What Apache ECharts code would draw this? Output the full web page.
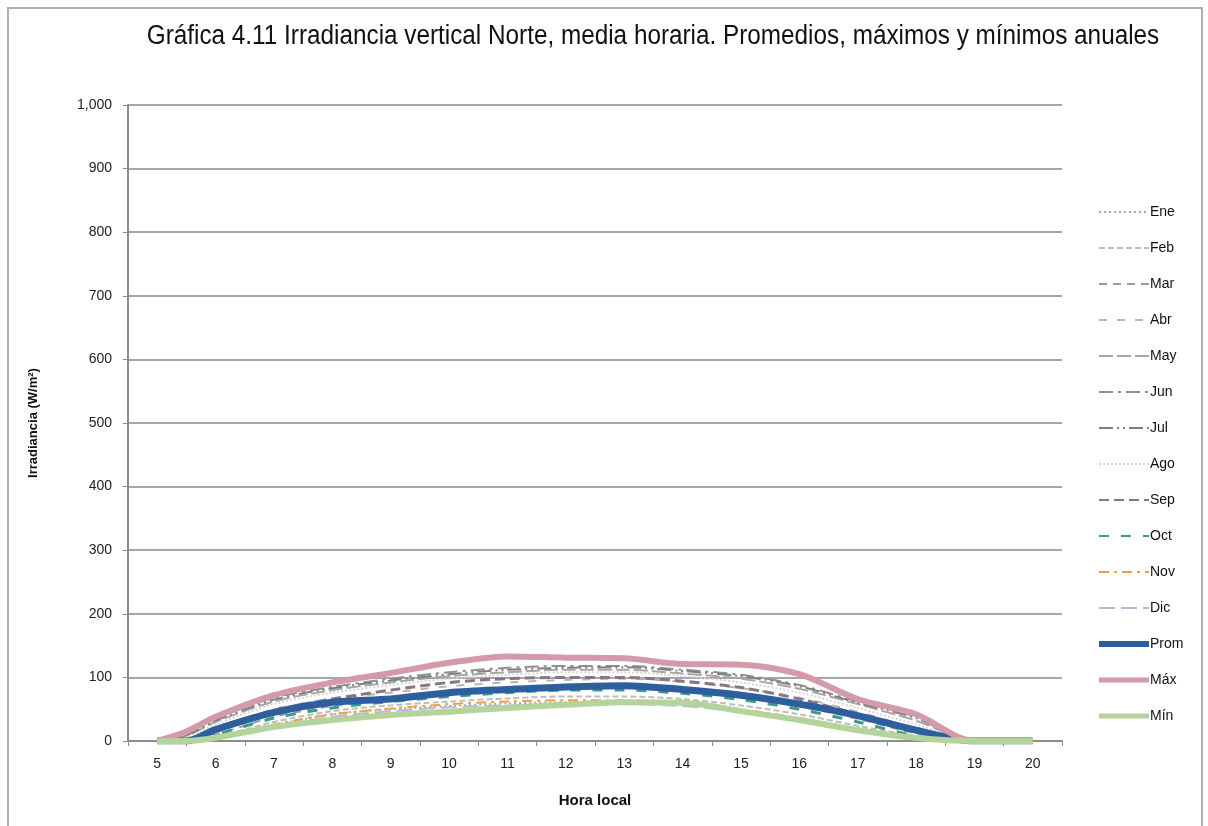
<!DOCTYPE html>
<html>
<head>
<meta charset="utf-8">
<script src="https://cdn.jsdelivr.net/npm/echarts@6/dist/echarts.min.js"></script>
<style>
  html, body { margin: 0; padding: 0; background: #fff; }
  #chart { width: 1208px; height: 826px; }
</style>
</head>
<body>
<div id="chart"></div>
<script>
'use strict';

// hora local (x) de cada punto
var horas = [5, 5.5, 6, 7, 8, 9, 10, 11, 12, 13, 14, 15, 16, 17, 18, 19, 20];
var etiquetasX = [5, 6, 7, 8, 9, 10, 11, 12, 13, 14, 15, 16, 17, 18, 19, 20];
var marcasX = [4.5, 5.5, 6.5, 7.5, 8.5, 9.5, 10.5, 11.5, 12.5, 13.5, 14.5, 15.5, 16.5, 17.5, 18.5, 19.5, 20.5];

var ene = [0, 0, 4, 25, 42, 50, 55, 59, 61, 62, 58, 48, 35, 20, 6, 0, 0];
var feb = [0, 0, 6, 30, 47, 56, 62, 67, 70, 70, 66, 56, 42, 24, 8, 0, 0];
var mar = [0, 0, 10, 38, 55, 65, 72, 78, 82, 84, 80, 70, 55, 35, 12, 0, 0];
var abr = [0, 3, 18, 50, 66, 76, 86, 92, 96, 98, 93, 83, 68, 46, 20, 0, 0];
var may = [0, 8, 30, 62, 80, 92, 102, 108, 112, 112, 106, 98, 82, 58, 32, 0, 0];
var jun = [0, 10, 35, 68, 85, 98, 108, 115, 118, 118, 112, 104, 88, 62, 38, 0, 0];
var jul = [0, 9, 32, 65, 83, 95, 105, 112, 115, 116, 110, 102, 86, 60, 36, 0, 0];
var ago = [0, 5, 26, 58, 76, 88, 98, 104, 108, 108, 102, 92, 76, 52, 26, 0, 0];
var sep = [0, 2, 18, 48, 66, 80, 92, 98, 100, 100, 94, 84, 66, 42, 14, 0, 0];
var oct = [0, 0, 10, 36, 52, 62, 70, 76, 80, 80, 75, 65, 50, 30, 8, 0, 0];
var nov = [0, 0, 5, 26, 42, 51, 58, 62, 64, 64, 60, 50, 36, 20, 5, 0, 0];
var dic = [0, 0, 3, 22, 38, 47, 53, 56, 58, 58, 55, 46, 33, 18, 4, 0, 0];
var prom = [0, 0, 18, 45, 61, 66, 76, 81, 85, 87, 81, 72, 58, 40, 17, 0, 0];
var maxi = [0, 15, 38, 72, 92, 107, 123, 133, 131, 130, 121, 120, 105, 66, 42, 0, 0];
var mini = [0, 0, 5, 22, 33, 41, 46, 52, 57, 61, 60, 47, 33, 17, 5, 0, 0];

function pares(vals) {
  return horas.map(function(h, i) { return [h, vals[i]]; });
}

function linea(nombre, vals, color, ancho, tipo) {
  return {
    name: nombre,
    type: 'line',
    smooth: 0.3,
    symbol: 'none',
    lineStyle: { color: color, width: ancho, type: tipo },
    itemStyle: { color: color },
    data: pares(vals)
  };
}

var myChart = echarts.init(document.getElementById('chart'));

var option = {
  animation: false,
  backgroundColor: '#fff',
  textStyle: { fontFamily: '"Liberation Sans", Arial, sans-serif' },
  graphic: [{
    type: 'rect',
    shape: { x: 8, y: 8, width: 1194, height: 840 },
    style: { fill: 'none', stroke: '#b0b0b0', lineWidth: 2 },
    silent: true
  }, {
    // titulo en letra estrecha, como en el original
    type: 'text',
    x: 653,
    y: 37,
    scaleX: 0.9,
    style: {
      text: 'Gráfica 4.11 Irradiancia vertical Norte, media horaria. Promedios, máximos y mínimos anuales',
      fill: '#111',
      font: '27px "Liberation Sans", Arial, sans-serif',
      align: 'center',
      verticalAlign: 'middle'
    }
  }],
  legend: {
    orient: 'vertical',
    left: 1091,
    top: 200,
    itemWidth: 50,
    itemHeight: 14,
    itemGap: 22,
    itemStyle: { opacity: 0 },
    textStyle: { fontSize: 14, color: '#111', padding: [0, 0, 0, -4] },
    data: ['Ene', 'Feb', 'Mar', 'Abr', 'May', 'Jun', 'Jul', 'Ago', 'Sep', 'Oct', 'Nov', 'Dic',
      { name: 'Prom', lineStyle: { width: 6 } },
      { name: 'Máx', lineStyle: { width: 5 } },
      { name: 'Mín', lineStyle: { width: 5 } }]
  },
  grid: {
    left: 128,
    right: 146,
    top: 105,
    bottom: 85
  },
  xAxis: {
    type: 'value',
    min: 4.5,
    max: 20.5,
    name: 'Hora local',
    nameLocation: 'middle',
    nameGap: 52,
    nameTextStyle: { fontWeight: 'bold', fontSize: 15, color: '#111' },
    axisLine: { lineStyle: { color: '#8c8c8c', width: 2 } },
    axisTick: { show: true, length: 5, lineStyle: { color: '#8c8c8c' }, customValues: marcasX },
    axisLabel: { fontSize: 14, color: '#222', margin: 16, customValues: etiquetasX },
    splitLine: { show: false }
  },
  yAxis: {
    type: 'value',
    min: 0,
    max: 1000,
    interval: 100,
    name: 'Irradiancia (W/m²)',
    nameLocation: 'middle',
    nameRotate: 90,
    nameGap: 88,
    nameTextStyle: { fontWeight: 'bold', fontSize: 13, color: '#111' },
    axisLine: { show: true, lineStyle: { color: '#8c8c8c', width: 2 } },
    axisTick: { show: true, length: 5, lineStyle: { color: '#8c8c8c' } },
    axisLabel: {
      fontSize: 14,
      color: '#222',
      margin: 16,
      formatter: function(v) { return v >= 1000 ? '1,000' : String(v); }
    },
    splitLine: { lineStyle: { color: '#a6a6a6', width: 2 } }
  },
  series: [
    linea('Ene', ene, '#a8a8a8', 2, [2, 3]),
    linea('Feb', feb, '#bdbdbd', 2, [6, 3]),
    linea('Mar', mar, '#9a9a9a', 2, [8, 6]),
    linea('Abr', abr, '#b5b5b5', 2, [8, 10]),
    linea('May', may, '#a6a6a6', 2, [14, 4]),
    linea('Jun', jun, '#8f8f8f', 2, [14, 5, 3, 5]),
    linea('Jul', jul, '#7f7f7f', 2, [14, 4, 2, 4, 2, 4]),
    linea('Ago', ago, '#d6d6d6', 2, [2, 2]),
    linea('Sep', sep, '#8a7488', 3, [10, 5]),
    linea('Oct', oct, '#3a9a88', 3, [10, 12]),
    linea('Nov', nov, '#f0a040', 2, [10, 5, 3, 5]),
    linea('Dic', dic, '#b4bcd2', 2, [16, 6]),
    linea('Prom', prom, '#2d5f9e', 7, 'solid'),
    linea('Máx', maxi, '#d49aa8', 6, 'solid'),
    linea('Mín', mini, '#b5d49b', 6, 'solid')
  ]
};

myChart.setOption(option);
</script>
</body>
</html>
